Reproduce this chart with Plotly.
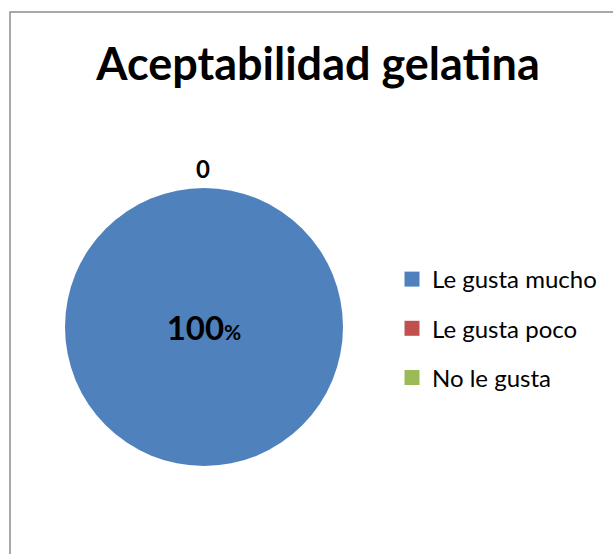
import plotly.graph_objects as go

title = "Aceptabilidad gelatina"
categories = ["Le gusta mucho", "Le gusta poco", "No le gusta"]
values = [100, 0, 0]
colors = ["#4F81BD", "#C0504D", "#9BBB59"]

W, H = 613, 554
FONT = "Lato"

total = sum(values)
texts = []
for v in values:
    if v > 0:
        texts.append(f"<b>{round(v / total * 100)}</b><b><span style='font-size:21px'>%</span></b>")
    else:
        texts.append("")

fig = go.Figure()
fig.add_trace(go.Pie(
    labels=categories,
    values=values,
    text=texts,
    textinfo="text",
    textposition="inside",
    insidetextfont=dict(family=FONT, size=33, color="black"),
    marker=dict(colors=colors, line=dict(width=0)),
    sort=False,
    direction="clockwise",
    rotation=0,
    showlegend=False,
    hoverinfo="label+value",
    domain=dict(x=[65 / W, 343 / W], y=[88 / H, 366 / H]),
))

# legend entries (one per category)
for i, (c, col) in enumerate(zip(categories, colors)):
    fig.add_trace(go.Scatter(
        x=[None], y=[None], mode="markers", name=c,
        marker=dict(symbol="square", size=15, color=col),
        legendgroup=f"g{i}", showlegend=True,
    ))

# label for zero-valued slices (drawn at the top of the pie)
zero_vals = [v for v in values if v == 0]
fig.add_annotation(
    text=f"<b>{zero_vals[0]}</b>", x=203 / W, y=1 - 168 / H, xref="paper", yref="paper",
    showarrow=False, font=dict(family=FONT, size=24, color="black"),
    xanchor="center", yanchor="middle",
)

fig.add_shape(type="rect", xref="paper", yref="paper",
              x0=10 / W, x1=1.05, y0=-0.05, y1=1 - 12 / H,
              line=dict(color="#8C8C8C", width=1.5), fillcolor="rgba(0,0,0,0)")

fig.update_layout(
    width=W, height=H,
    margin=dict(l=0, r=0, t=0, b=0),
    paper_bgcolor="white", plot_bgcolor="white",
    title=dict(text=f"<b>{title}</b>", x=318 / W, y=1 - 64 / H, xanchor="center", yanchor="middle",
               font=dict(family=FONT, size=45, color="black")),
    xaxis=dict(visible=False), yaxis=dict(visible=False),
    legend=dict(x=(432 - 40) / W, y=1 - 328.5 / H, xanchor="left", yanchor="middle",
                font=dict(family=FONT, size=24, color="black"),
                traceorder="grouped", tracegroupgap=15, bgcolor="rgba(0,0,0,0)"),
)

fig.write_html("out.html")
